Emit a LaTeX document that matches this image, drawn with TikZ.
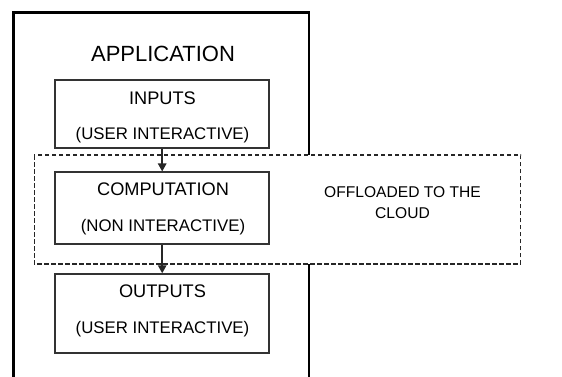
\documentclass[tikz,border=0pt]{standalone}
\usepackage{fontspec}
\setmainfont{Liberation Sans}
\usetikzlibrary{arrows.meta}
\tikzset{
  outerbox/.style={draw=black, line width=2.2pt},
  cloudbox/.style={draw=black!85, fill=white, line width=1.1pt, dash pattern=on 4.5pt off 2.5pt},
  stagebox/.style={draw=black!80, line width=1.6pt, minimum width=214pt, inner sep=0pt},
  arr/.style={draw=black!85, line width=1.5pt, -{Triangle[length=8pt,width=8.5pt]}},
  headtxt/.style={font=\fontsize{22}{24}\selectfont, anchor=base, inner sep=0pt},
  titletxt/.style={font=\fontsize{18.2}{21}\selectfont, anchor=base, inner sep=0pt},
  subtxt/.style={font=\fontsize{16.8}{20}\selectfont, anchor=base, inner sep=0pt},
  cloudtxt/.style={font=\fontsize{15.6}{21}\selectfont, align=center, inner sep=0pt}
}
\begin{document}
\begin{tikzpicture}[x=1pt, y=-1pt]
\useasboundingbox (0,0) rectangle (562,376);
\clip (0,0) rectangle (562,376);
% outer application box (extends beyond the bottom edge)
\draw[outerbox] (13.5,12.5) rectangle (309.3,390);
% dashed cloud region
\draw[cloudbox] (34.3,155) rectangle (520.7,264);
% stage boxes
\node[stagebox, minimum height=68pt] (in) at (162.2,114.2) {};
\node[stagebox, minimum height=72pt] (comp) at (162.2,208.2) {};
\node[stagebox, minimum height=78.7pt] (out) at (162.2,313.4) {};
% texts
\node[headtxt] (app) at (163,61.7) {APPLICATION};
\node[titletxt] (inT) at (162.5,104) {INPUTS};
\node[subtxt] (inS) at (162.5,139.5) {(USER INTERACTIVE)};
\node[titletxt] (compT) at (163,195.7) {COMPUTATION};
\node[subtxt] (compS) at (163,231.5) {(NON INTERACTIVE)};
\node[titletxt] (outT) at (162.5,297.3) {OUTPUTS};
\node[subtxt] (outS) at (162.5,333) {(USER INTERACTIVE)};
\node[cloudtxt] (cloud) at (402.5,202.5) {OFFLOADED TO THE\\CLOUD};
% arrows
\draw[arr] (in.south) -- (comp.north);
\draw[arr] (comp.south) -- (out.north);
\end{tikzpicture}
\end{document}
